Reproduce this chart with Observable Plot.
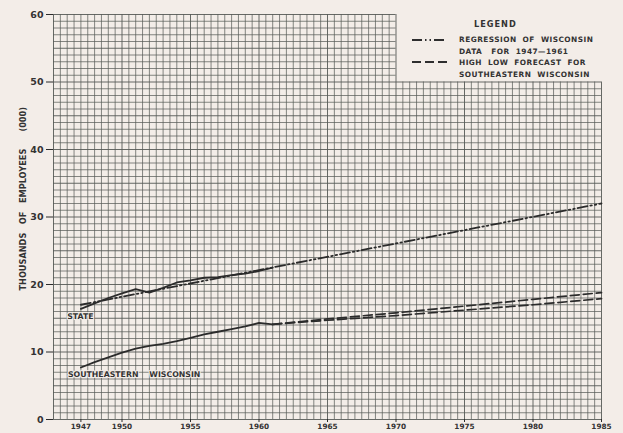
<!DOCTYPE html>
<html>
<head>
<meta charset="utf-8">
<script src="https://cdn.jsdelivr.net/npm/d3@7"></script>
<script src="https://cdn.jsdelivr.net/npm/@observablehq/plot@0.6"></script>
<style>
  html, body { margin: 0; padding: 0; background: #f3ede8; }
  #wrap { position: relative; width: 623px; height: 433px; overflow: hidden; }
  #legend { position: absolute; left: 405px; top: 16px; width: 210px;
    font-family: "DejaVu Sans", sans-serif; font-weight: bold; font-size: 7.4px;
    color: #333; letter-spacing: 0.45px; }
  #legend .title { position: absolute; left: 69px; top: 3px; font-size: 8.2px; letter-spacing: 1px; }
  #legend .row { position: absolute; left: 54px; line-height: 11.5px; white-space: pre; }
  #legend svg { position: absolute; left: 0; top: 0; }
</style>
</head>
<body>
<div id="wrap">
  <div id="chart"></div>
  <div id="legend">
    <svg width="60" height="70">
      <line x1="7" x2="42" y1="24" y2="24" stroke="#2e2e2e" stroke-width="1.8" stroke-dasharray="10,3,1.5,3,1.5,3"></line>
      <line x1="7" x2="45" y1="46" y2="46" stroke="#2e2e2e" stroke-width="1.8" stroke-dasharray="9,4"></line>
    </svg>
    <div class="title">LEGEND</div>
    <div class="row" style="top:18px">REGRESSION  OF  WISCONSIN
DATA   FOR  1947—1961</div>
    <div class="row" style="top:41px">HIGH  LOW  FORECAST  FOR
SOUTHEASTERN  WISCONSIN</div>
  </div>
</div>
<script>
// ---- data ----
const years = [1947,1948,1949,1950,1951,1952,1953,1954,1955,1956,1957,1958,1959,1960,1961];
const stateActual = [16.4,17.2,18.0,18.7,19.3,18.8,19.5,20.3,20.6,21.0,21.1,21.4,21.6,22.0,22.5];
const seActual    = [7.7,8.5,9.2,9.9,10.5,10.9,11.2,11.6,12.1,12.6,13.0,13.4,13.8,14.3,14.1];
const regYears = [1947, 1985];
const regState = [17.0, 32.0];
const fcYears = [1961,1965,1970,1975,1980,1985];
const fcHigh  = [14.1,14.9,15.8,16.8,17.8,18.8];
const fcLow   = [14.1,14.7,15.4,16.2,17.0,17.9];
const yTicks = [0,10,20,30,40,50,60];
const xTicks = [1947,1950,1955,1960,1965,1970,1975,1980,1985];
const seriesLabels = [
  {text: "STATE", x: 1946, y: 15.3},
  {text: "SOUTHEASTERN    WISCONSIN", x: 1946.05, y: 6.6}
];
const yLabel = "THOUSANDS   OF   EMPLOYEES      (000)";

// grid (graph paper): every half year, every unit; legend corner cut out
const gridX = d3.range(1945, 1985.01, 0.5);
const gridY = d3.range(0, 60.01, 1);
const cutX = 1970, cutY = 50;

const toRows = (xs, ys) => xs.map((x, i) => ({x, y: ys[i]}));
const ink = "#2b2b2b";
const gridColor = "#575a56";
const font = "'DejaVu Sans', sans-serif";

const plot = Plot.plot({
  width: 623, height: 433,
  marginLeft: 53, marginRight: 22, marginTop: 14, marginBottom: 14,
  style: {background: "transparent", fontFamily: font, color: "#333", overflow: "visible"},
  x: {domain: [1945, 1985]},
  y: {domain: [0, 60]},
  marks: [
    Plot.ruleX(gridX, {x: d => d, y1: 0, y2: d => d > cutX ? cutY : 60, stroke: gridColor,
      strokeWidth: d => (Math.abs(d % 5) < 1e-9) ? 1.0 : 0.8, strokeOpacity: 0.9}),
    Plot.ruleY(gridY, {y: d => d, x1: 1945, x2: d => d > cutY ? cutX : 1985, stroke: gridColor,
      strokeWidth: d => (d % 5 === 0) ? 1.0 : 0.8, strokeOpacity: 0.9}),
    Plot.axisY({ticks: yTicks, tickSize: 7, tickPadding: 3, tickFormat: d => String(d),
      fontSize: 9.5, fontWeight: "bold", label: null, stroke: ink}),
    Plot.axisX({ticks: xTicks, tickSize: 3, tickPadding: 1, tickFormat: d => String(d),
      fontSize: 7.3, fontWeight: "bold", label: null, stroke: ink}),
    Plot.text([yLabel], {x: 1945, y: 32.7, dx: -30, rotate: -90, fontSize: 8.2, fontWeight: "bold",
      fill: "#333", text: d => d, style: "letter-spacing:1px; white-space:pre"}),
    // regression of Wisconsin data
    Plot.line(toRows(regYears, regState), {x: "x", y: "y", stroke: ink, strokeWidth: 1.8,
      strokeDasharray: "10,3,1.5,3,1.5,3"}),
    // actual data
    Plot.line(toRows(years, stateActual), {x: "x", y: "y", stroke: ink, strokeWidth: 1.8}),
    Plot.line(toRows(years, seActual), {x: "x", y: "y", stroke: ink, strokeWidth: 1.8}),
    // high / low forecast
    Plot.line(toRows(fcYears, fcHigh), {x: "x", y: "y", stroke: ink, strokeWidth: 1.7, strokeDasharray: "9,4"}),
    Plot.line(toRows(fcYears, fcLow), {x: "x", y: "y", stroke: ink, strokeWidth: 1.7, strokeDasharray: "9,4"}),
    Plot.text(seriesLabels, {x: "x", y: "y", text: "text", textAnchor: "start", fontSize: 7.8,
      fontWeight: "bold", fill: "#333", style: "letter-spacing:0.9px; white-space:pre",
      stroke: "#f3ede8", strokeWidth: 2})
  ]
});
document.getElementById("chart").appendChild(plot);
</script>
</body>
</html>
